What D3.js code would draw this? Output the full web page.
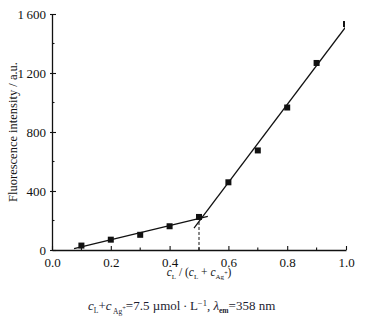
<!DOCTYPE html>
<html>
<head>
<meta charset="utf-8">
<script src="https://cdn.jsdelivr.net/npm/d3@7"></script>
<style>
  body { margin: 0; background: #fff; }
</style>
</head>
<body>
<svg id="chart" width="367" height="326" font-family="Liberation Serif"></svg>
<script>
// data
const ratio = [0.1, 0.2, 0.3, 0.4, 0.5, 0.6, 0.7, 0.8, 0.9, 1.0];
const intensity = [30, 70, 103, 161, 224, 459, 675, 966, 1268, 1532];
// two fitted segments: [x_start, x_end] and the points used in each fit
const fitRanges = [[0.075, 0.53], [0.483, 1.0]];
const fitGroups = [[0, 1, 2, 3, 4], [4, 5, 6, 7, 8, 9]];
const xTicks = [0, 0.2, 0.4, 0.6, 0.8, 1.0];
const xMinor = [0.1, 0.3, 0.5, 0.7, 0.9];
const yTicks = [0, 400, 800, 1200, 1600];
const yMinor = [200, 600, 1000, 1400];
const breakIndex = 4;

const serif = 'Liberation Serif';
const ink = '#111';

const svg = d3.select('#chart');
const margin = {left: 52, right: 21, top: 14, bottom: 76};
const width = 367 - margin.left - margin.right;
const height = 326 - margin.top - margin.bottom;

const x = d3.scaleLinear().domain([0, 1]).range([0, width]);
const y = d3.scaleLinear().domain([0, 1600]).range([height, 0]);

const g = svg.append('g').attr('transform', `translate(${margin.left},${margin.top})`);

svg.append('defs').append('clipPath').attr('id', 'clip')
    .append('rect').attr('x', -2).attr('y', -4).attr('width', width + 1).attr('height', height + 4);

const fmtY = d => d >= 1000 ? d3.format(',')(d).replace(',', '\u2009') : d;

// x axis
const xAxis = g.append('g').attr('transform', `translate(0,${height})`)
    .call(d3.axisBottom(x).tickValues(xTicks).tickFormat(d3.format('.1f'))
        .tickSizeInner(-4).tickSizeOuter(0).tickPadding(8));
xAxis.append('g').selectAll('line').data(xMinor).join('line')
    .attr('x1', d => x(d)).attr('x2', d => x(d)).attr('y1', 0).attr('y2', -2.5);

// y axis
const yAxis = g.append('g')
    .call(d3.axisLeft(y).tickValues(yTicks).tickFormat(fmtY)
        .tickSizeInner(-4).tickSizeOuter(0).tickPadding(6));
yAxis.append('g').selectAll('line').data(yMinor).join('line')
    .attr('y1', d => y(d)).attr('y2', d => y(d)).attr('x1', 0).attr('x2', 2.5);

[xAxis, yAxis].forEach(a => {
    a.attr('font-family', serif);
    a.selectAll('path').attr('stroke', ink).attr('stroke-width', 1.3);
    a.selectAll('line').attr('stroke', ink).attr('stroke-width', 1.1);
    a.selectAll('text').attr('font-size', 13).attr('font-family', serif).attr('fill', ink);
});
yAxis.selectAll('.tick line').attr('x1', -2);

// fitted lines (least squares over each group)
const plot = g.append('g').attr('clip-path', 'url(#clip)');
fitGroups.forEach((idx, k) => {
    const xs = idx.map(i => ratio[i]), ys = idx.map(i => intensity[i]);
    const mx = d3.mean(xs), my = d3.mean(ys);
    const slope = d3.sum(xs, (v, i) => (v - mx) * (ys[i] - my)) / d3.sum(xs, v => (v - mx) ** 2);
    const b = my - slope * mx;
    const [a0, a1] = fitRanges[k];
    plot.append('line')
        .attr('x1', x(a0)).attr('y1', y(slope * a0 + b))
        .attr('x2', x(a1)).attr('y2', y(slope * a1 + b))
        .attr('stroke', ink).attr('stroke-width', 1.3);
});

// dashed drop line at the break point
g.append('line')
    .attr('x1', x(ratio[breakIndex])).attr('x2', x(ratio[breakIndex]))
    .attr('y1', y(intensity[breakIndex])).attr('y2', y(0))
    .attr('stroke', ink).attr('stroke-width', 1).attr('stroke-dasharray', '3,2');

// markers
plot.selectAll('rect.pt').data(ratio).join('rect').attr('class', 'pt')
    .attr('x', d => x(d) - 3).attr('y', (d, i) => y(intensity[i]) - 3)
    .attr('width', 6).attr('height', 6).attr('fill', ink);

// y label
svg.append('text')
    .attr('transform', `translate(17,${margin.top + height / 2}) rotate(-90)`)
    .attr('text-anchor', 'middle').attr('font-size', 12.5)
    .attr('font-family', serif).attr('fill', ink)
    .text('Fluorescence intensity / a.u.');

// x label
const xl = svg.append('text')
    .attr('x', margin.left + x(0.5)).attr('y', 276)
    .attr('text-anchor', 'middle').attr('font-size', 11.5)
    .attr('font-family', serif).attr('fill', ink);
xl.append('tspan').attr('font-style', 'italic').text('c');
xl.append('tspan').attr('font-size', 7).attr('dy', 3).text('L');
xl.append('tspan').attr('dy', -3).text(' / (');
xl.append('tspan').attr('font-style', 'italic').text('c');
xl.append('tspan').attr('font-size', 7).attr('dy', 3).text('L');
xl.append('tspan').attr('dy', -3).text(' + ');
xl.append('tspan').attr('font-style', 'italic').text('c');
xl.append('tspan').attr('font-size', 7).attr('dy', 3).text('Ag');
xl.append('tspan').attr('font-size', 6).attr('dy', -4).text('+');
xl.append('tspan').attr('dy', 1).text(')');

// caption
const cap = svg.append('text')
    .attr('x', 88).attr('y', 310).attr('font-size', 13)
    .attr('font-family', serif).attr('fill', '#1c1c30');
cap.append('tspan').attr('font-style', 'italic').text('c');
cap.append('tspan').attr('font-size', 7.5).attr('dy', 3).text('L');
cap.append('tspan').attr('dy', -3).text('+');
cap.append('tspan').attr('font-style', 'italic').text('c');
cap.append('tspan').attr('font-size', 7.5).attr('dy', 4).text(' Ag');
cap.append('tspan').attr('font-size', 6.5).attr('dy', -4).text('+');
cap.append('tspan').attr('dy', 0).text('=7.5 \u00b5mol\u2009\u00b7\u2009L');
cap.append('tspan').attr('font-size', 8.5).attr('dy', -4).text('\u22121');
cap.append('tspan').attr('dy', 4).text(', ');
cap.append('tspan').attr('font-style', 'italic').text('\u03bb');
cap.append('tspan').attr('font-size', 7.5).attr('dy', 3).attr('font-weight', 'bold').text('em');
cap.append('tspan').attr('dy', -3).text('=358 nm');
</script>
</body>
</html>
